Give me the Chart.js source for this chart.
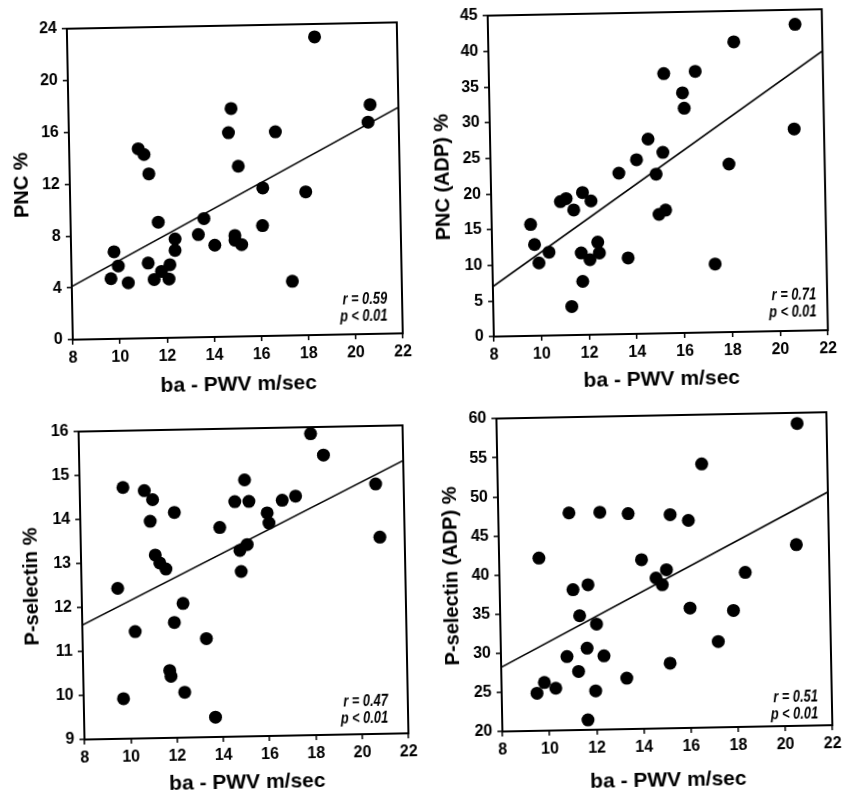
<!DOCTYPE html>
<html>
<head>
<meta charset="utf-8">
<script src="https://cdn.jsdelivr.net/npm/chart.js@4.4.1/dist/chart.umd.min.js"></script>
<style>
  html, body { margin: 0; padding: 0; background: #fff; overflow: hidden; }
  #wrap {
    position: absolute; left: 0; top: 0; width: 842px; height: 796px;
    transform: rotate(-1.1deg); transform-origin: 421px 398px;
  }
  #wrap canvas { position: absolute; }
</style>
</head>
<body>
<div id="wrap">
  <canvas id="c1" width="420" height="398" style="left:0;top:0"></canvas>
  <canvas id="c2" width="422" height="398" style="left:420px;top:0"></canvas>
  <canvas id="c3" width="420" height="398" style="left:0;top:398px"></canvas>
  <canvas id="c4" width="422" height="398" style="left:420px;top:398px"></canvas>
</div>
<script>
// x axis shared by all panels
const xTicks = [8, 10, 12, 14, 16, 18, 20, 22];

// PNC %
const pncX = [18.5, 20.8, 20.7, 14.9, 14.77, 16.76, 10.93, 11.17, 11.36, 15.16, 16.18, 18.0, 13.66, 11.72, 13.41, 16.14,
  12.42, 12.41, 14.1, 14.96, 14.96, 15.24, 9.82, 9.99, 9.67, 10.4, 11.26, 11.5, 11.82, 12.18, 12.13, 17.36];
const pncY = [23.0, 17.7, 16.35, 17.6, 15.74, 15.74, 14.63, 14.18, 12.68, 13.14, 11.43, 11.06, 9.15, 8.94, 7.92, 8.52,
  7.62, 6.74, 7.08, 7.8, 7.43, 7.09, 6.72, 5.62, 4.65, 4.31, 5.8, 4.52, 5.14, 5.64, 4.54, 4.18];
const pncFit = [4.1, 17.45];
const pncTicks = [0, 4, 8, 12, 16, 20, 24];

// PNC (ADP) %
const pncAdpX = [20.87, 18.29, 15.33, 16.65, 16.1, 16.16, 20.75, 14.62, 15.23, 14.12, 17.99, 13.37, 14.93, 15.02, 15.3, 10.9,
  11.14, 11.45, 11.83, 12.18, 9.63, 9.78, 9.95, 10.38, 11.73, 12.09, 12.43, 12.49, 13.69, 11.77, 11.29, 17.33];
const pncAdpY = [42.95, 40.67, 36.4, 36.64, 33.66, 31.5, 28.29, 27.27, 25.36, 24.4, 23.55, 22.57, 22.33, 16.68, 17.27, 18.74,
  19.15, 17.53, 19.95, 18.75, 15.62, 12.79, 10.2, 11.68, 11.49, 10.53, 12.95, 11.44, 10.67, 7.5, 4.01, 9.58];
const pncAdpFit = [7.0, 39.15];
const pncAdpTicks = [0, 5, 10, 15, 20, 25, 30, 35, 40, 45];

// P-selectin %
const pselX = [18.02, 18.56, 20.79, 20.93, 15.13, 14.69, 15.3, 16.74, 17.32, 16.08, 16.15, 14.02, 14.87, 15.19, 14.91, 9.87,
  10.79, 11.14, 11.02, 12.07, 11.21, 11.4, 11.66, 9.56, 10.28, 12.37, 11.98, 13.35, 11.74, 11.79, 12.37, 9.72, 13.68];
const pselY = [15.85, 15.36, 14.68, 13.47, 14.83, 14.34, 14.34, 14.35, 14.44, 14.07, 13.84, 13.76, 13.23, 13.36, 12.75, 14.71,
  14.63, 14.42, 13.93, 14.12, 13.16, 12.98, 12.84, 12.42, 11.43, 12.05, 11.62, 11.24, 10.53, 10.4, 10.03, 9.91, 9.45];
const pselFit = [11.6, 15.2];
const pselTicks = [9, 10, 11, 12, 13, 14, 15, 16];

// P-selectin (ADP) %
const pselAdpX = [20.75, 16.67, 11.0, 12.31, 13.51, 15.29, 16.06, 20.62, 9.69, 14.04, 15.09, 14.64, 14.9, 18.43, 11.11, 11.75,
  11.37, 12.08, 16.06, 17.9, 17.23, 11.66, 10.8, 12.37, 15.17, 11.28, 13.32, 9.82, 10.3, 9.5, 11.99, 11.64];
const pselAdpY = [58.63, 53.7, 47.76, 47.77, 47.53, 47.3, 46.52, 43.15, 42.07, 41.61, 40.27, 39.23, 38.36, 39.73, 37.94, 38.54,
  34.6, 33.49, 35.31, 34.9, 30.97, 30.44, 29.42, 29.42, 28.32, 27.48, 26.51, 26.16, 25.4, 24.8, 24.96, 21.27];
const pselAdpFit = [28.2, 49.8];
const pselAdpTicks = [20, 25, 30, 35, 40, 45, 50, 55, 60];

const FONT = '"Liberation Sans", Arial, sans-serif';

// box round the plot area plus the r / p note
const framePlugin = {
  id: 'frame',
  beforeDatasetsDraw(chart) {
    const { ctx, chartArea: a } = chart;
    ctx.save();
    ctx.strokeStyle = '#000';
    ctx.lineWidth = 2;
    ctx.strokeRect(a.left, a.top, a.right - a.left, a.bottom - a.top);
    ctx.restore();
  },
  afterDraw(chart, args, opts) {
    const { ctx, chartArea: a } = chart;
    ctx.save();
    ctx.fillStyle = '#000';
    ctx.font = 'italic bold 16px ' + FONT;
    ctx.textAlign = 'right';
    ctx.textBaseline = 'middle';
    opts.lines.forEach((t, i) => {
      ctx.save();
      ctx.translate(a.right - opts.dx, a.bottom - opts.dy + i * 17);
      ctx.scale(0.8, 1);
      ctx.fillText(t, 0, 0);
      ctx.restore();
    });
    ctx.restore();
  }
};

function makeChart(id, xs, ys, fit, yTicks, yTitle, lay, stats) {
  const pts = xs.map((x, i) => ({ x: x, y: ys[i] }));
  const tickGrid = { display: true, drawOnChartArea: false, drawTicks: true, tickLength: 5, color: '#000', lineWidth: 1.5 };

  return new Chart(document.getElementById(id), {
    data: {
      datasets: [
        {
          type: 'scatter',
          data: pts,
          backgroundColor: '#000',
          borderWidth: 0,
          pointRadius: 6.5,
          clip: false,
        },
        {
          type: 'line',
          data: [{ x: xTicks[0], y: fit[0] }, { x: xTicks[xTicks.length - 1], y: fit[1] }],
          borderColor: '#000',
          borderWidth: 1.6,
          pointRadius: 0,
          fill: false,
        },
      ],
    },
    options: {
      responsive: false,
      animation: false,
      events: [],
      layout: { padding: { left: 0, right: lay.right, top: lay.top, bottom: 0 } },
      plugins: {
        legend: { display: false },
        tooltip: { enabled: false },
        frame: stats,
      },
      scales: {
        x: {
          type: 'linear',
          min: xTicks[0],
          max: xTicks[xTicks.length - 1],
          afterBuildTicks: (s) => { s.ticks = xTicks.map((v) => ({ value: v })); },
          afterFit: (s) => { s.height = lay.xh; },
          grid: tickGrid,
          border: { display: true, color: '#000', width: 2 },
          ticks: { color: '#000', padding: 4, font: { family: FONT, size: 16, weight: 'bold' } },
          title: {
            display: true,
            text: 'ba - PWV m/sec',
            color: '#000',
            font: { family: FONT, size: 21, weight: 'bold', lineHeight: 1 },
            padding: { top: 0, bottom: lay.xpad },
          },
        },
        y: {
          type: 'linear',
          min: yTicks[0],
          max: yTicks[yTicks.length - 1],
          afterBuildTicks: (s) => { s.ticks = yTicks.map((v) => ({ value: v })); },
          afterFit: (s) => { s.width = lay.yw; },
          grid: tickGrid,
          border: { display: true, color: '#000', width: 2 },
          ticks: { color: '#000', padding: 5, font: { family: FONT, size: 16, weight: 'bold' } },
          title: {
            display: true,
            text: yTitle,
            color: '#000',
            font: { family: FONT, size: 20, weight: 'bold', lineHeight: 1 },
            padding: { top: lay.ypad, bottom: 0 },
          },
        },
      },
    },
    plugins: [framePlugin],
  });
}

makeChart('c1', pncX, pncY, pncFit, pncTicks, 'PNC %',
  { yw: 74, right: 16, top: 22, xh: 65, xpad: 6.5, ypad: 16 },
  { lines: ['r = 0.59', 'p < 0.01'], dx: 15, dy: 34 });

makeChart('c2', pncAdpX, pncAdpY, pncAdpFit, pncAdpTicks, 'PNC (ADP) %',
  { yw: 75, right: 11, top: 17, xh: 60, xpad: 3, ypad: 17.4 },
  { lines: ['r = 0.71', 'p < 0.01'], dx: 11, dy: 35 });

makeChart('c3', pselX, pselY, pselFit, pselTicks, 'P-selectin %',
  { yw: 78, right: 18, top: 27, xh: 63, xpad: 5.8, ypad: 18.4 },
  { lines: ['r = 0.47', 'p < 0.01'], dx: 20, dy: 32 });

makeChart('c4', pselAdpX, pselAdpY, pselAdpFit, pselAdpTicks, 'P-selectin (ADP) %',
  { yw: 76, right: 16, top: 22, xh: 63, xpad: 0.7, ypad: 18.6 },
  { lines: ['r = 0.51', 'p < 0.01'], dx: 14, dy: 28 });
</script>
</body>
</html>
